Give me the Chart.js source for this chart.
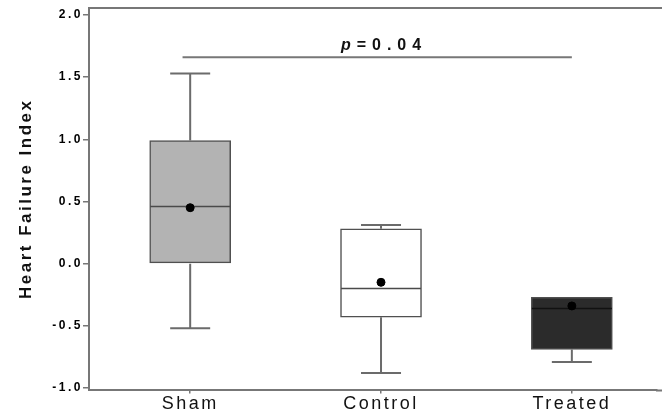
<!DOCTYPE html>
<html><head><meta charset="utf-8">
<script src="https://cdn.jsdelivr.net/npm/chart.js@4"></script>
<style>html,body{margin:0;padding:0;background:#fff;} #wrap{width:662px;height:418px;position:relative;}</style>
</head><body><div id="wrap"><canvas id="c"></canvas></div>
<script>
// ---- data ----
const categories = ['Sham', 'Control', 'Treated'];
const positions = [1, 2, 3];
const q1 = [0.00, -0.43, -0.69];
const q3 = [0.99, 0.28, -0.27];
const medians = [0.46, -0.20, -0.36];
const means = [0.45, -0.15, -0.34];
const whiskerLow = [-0.52, -0.88, -0.79];
const whiskerHigh = [1.53, 0.31, -0.27];
const yTicks = [-1.0, -0.5, 0.0, 0.5, 1.0, 1.5, 2.0];
const pValueText = ['p', '=0.04'];
const pBracket = [0.96, 3.0, 1.66]; // from x, to x, at y

// ---- styles ----
const boxFill = ['#b3b3b3', '#ffffff', '#2b2b2b'];
const medianColor = ['#4a4a4a', '#4a4a4a', '#111111'];
const axisColor = '#777777';

const extras = {
  id: 'extras',
  beforeDraw(chart) { chart.ctx.letterSpacing = '2.5px'; },
  afterDatasetDraw(chart, args) {
    if (args.index !== 0) return;
    const ctx = chart.ctx, x = chart.scales.x, y = chart.scales.y;
    ctx.save();
    positions.forEach((p, i) => {
      const cx = x.getPixelForValue(p);
      const yLo = y.getPixelForValue(whiskerLow[i]);
      const yHi = y.getPixelForValue(whiskerHigh[i]);
      const yQ1 = y.getPixelForValue(q1[i]);
      const yQ3 = y.getPixelForValue(q3[i]);
      const yMed = y.getPixelForValue(medians[i]);
      ctx.strokeStyle = '#6b6b6b';
      ctx.lineWidth = 2;
      ctx.beginPath();
      ctx.moveTo(cx, yQ1); ctx.lineTo(cx, yLo);
      ctx.moveTo(cx - 20, yLo); ctx.lineTo(cx + 20, yLo);
      if (whiskerHigh[i] > q3[i]) {
        ctx.moveTo(cx, yQ3); ctx.lineTo(cx, yHi);
        ctx.moveTo(cx - 20, yHi); ctx.lineTo(cx + 20, yHi);
      }
      ctx.stroke();
      ctx.strokeStyle = medianColor[i];
      ctx.lineWidth = 1.5;
      ctx.beginPath();
      ctx.moveTo(cx - 40, yMed); ctx.lineTo(cx + 40, yMed);
      ctx.stroke();
    });
    ctx.restore();
  },
  afterDraw(chart) {
    const ctx = chart.ctx, x = chart.scales.x, y = chart.scales.y, a = chart.chartArea;
    ctx.save();
    ctx.strokeStyle = axisColor;
    ctx.lineWidth = 2;
    ctx.beginPath();
    ctx.moveTo(a.left - 1, a.top); ctx.lineTo(chart.width, a.top);
    ctx.moveTo(a.right - 1, a.bottom + 1); ctx.lineTo(chart.width, a.bottom + 1);
    ctx.stroke();
    const by = y.getPixelForValue(pBracket[2]);
    ctx.beginPath();
    ctx.moveTo(x.getPixelForValue(pBracket[0]), by);
    ctx.lineTo(x.getPixelForValue(pBracket[1]), by);
    ctx.stroke();
    ctx.fillStyle = '#111';
    ctx.textBaseline = 'middle';
    ctx.textAlign = 'left';
    ctx.letterSpacing = '6px';
    const f1 = 'italic bold 16px Arial', f2 = 'bold 16px Arial';
    ctx.font = f1; const w1 = ctx.measureText(pValueText[0]).width;
    ctx.font = f2; const w2 = ctx.measureText(pValueText[1]).width;
    const total = w1 + w2 - 6;
    let tx = x.getPixelForValue(2) - total / 2;
    const ty = by - 12;
    ctx.font = f1; ctx.fillText(pValueText[0], tx, ty);
    ctx.font = f2; ctx.fillText(pValueText[1], tx + w1, ty);
    ctx.restore();
  }
};

const ctx = document.getElementById('c').getContext('2d');
new Chart(ctx, {
  type: 'bar',
  data: {
    datasets: [
      {
        type: 'bar',
        label: 'box',
        order: 2,
        data: positions.map((p, i) => ({ x: p, y: [q1[i], q3[i]] })),
        backgroundColor: boxFill,
        borderColor: '#505050',
        borderWidth: 1.5,
        borderSkipped: false,
        barThickness: 81
      },
      {
        type: 'scatter',
        label: 'mean',
        order: 1,
        data: positions.map((p, i) => ({ x: p, y: means[i] })),
        backgroundColor: '#000',
        borderColor: '#000',
        pointRadius: 4,
        pointHoverRadius: 4
      }
    ]
  },
  options: {
    responsive: true,
    maintainAspectRatio: false,
    animation: false,
    layout: { padding: { top: 8, right: 0, left: 0, bottom: 0 } },
    plugins: { legend: { display: false }, tooltip: { enabled: false } },
    scales: {
      x: {
        type: 'linear',
        offset: false,
        min: 0.4698,
        max: 3.4462,
        afterBuildTicks: (s) => { s.ticks = positions.map(v => ({ value: v })); },
        afterFit: (s) => { s.height = 28.5; },
        ticks: {
          callback: (v, i) => categories[i],
          font: { family: 'Arial', size: 18 },
          color: '#111',
          padding: 0,
          maxRotation: 0,
          autoSkip: false
        },
        grid: { offset: false, drawOnChartArea: false, drawTicks: true, tickLength: 4, color: axisColor, lineWidth: 1.5 },
        border: { color: axisColor, width: 2 }
      },
      y: {
        type: 'linear',
        min: -1.012,
        max: 2.056,
        afterBuildTicks: (s) => { s.ticks = yTicks.map(v => ({ value: v })); },
        afterFit: (s) => { s.width = 89; },
        ticks: {
          callback: (v) => v.toFixed(1),
          font: { family: 'Arial', size: 12, weight: 'bold' },
          color: '#000',
          padding: 0
        },
        grid: { drawOnChartArea: false, drawTicks: true, tickLength: 6, color: axisColor, lineWidth: 1.5 },
        border: { color: axisColor, width: 2 },
        title: {
          display: true,
          text: 'Heart Failure Index',
          font: { family: 'Arial', size: 17, weight: 'bold' },
          color: '#111',
          padding: { top: 16, bottom: 4 }
        }
      }
    }
  },
  plugins: [extras]
});
</script>
</body></html>
